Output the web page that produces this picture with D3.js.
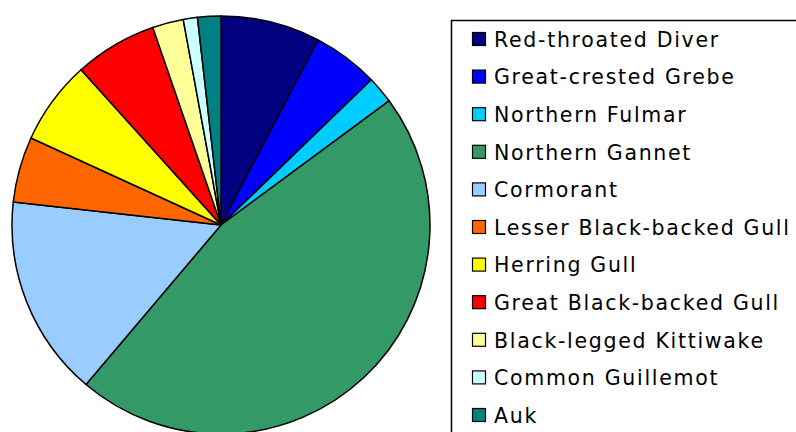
<!DOCTYPE html>
<html>
<head>
<meta charset="utf-8">
<script src="https://cdn.jsdelivr.net/npm/d3@7"></script>
<style>
  body { margin: 0; background: #fff; }
  svg { display: block; }
  .legend text { font-family: "DejaVu Sans", Verdana, sans-serif; font-size: 20.5px; letter-spacing: 1.7px; fill: #000; }
</style>
</head>
<body>
<svg id="chart"></svg>
<script>
const width = 796
const height = 432

// share of each species, clockwise from 12 o'clock
const species = [
  'Red-throated Diver', 'Great-crested Grebe', 'Northern Fulmar', 'Northern Gannet',
  'Cormorant', 'Lesser Black-backed Gull', 'Herring Gull', 'Great Black-backed Gull',
  'Black-legged Kittiwake', 'Common Guillemot', 'Auk'
]
const shares = [7.7, 5.1, 2.1, 46.4, 15.6, 5.1, 6.5, 6.4, 2.4, 1.1, 1.8]
const colors = [
  '#000080', '#0000ff', '#00ccff', '#339966', '#99ccff', '#ff6600',
  '#ffff00', '#ff0000', '#ffff99', '#ccffff', '#008080'
]

const center = {x: 221, y: 225}
const radius = 209

const svg = d3.select('#chart')
  .attr('width', width)
  .attr('height', height)

const color = d3.scaleOrdinal().domain(species).range(colors)

const pie = d3.pie().sort(null).value(d => d.value)
const arc = d3.arc().innerRadius(0).outerRadius(radius)

const data = species.map((name, i) => ({name, value: shares[i]}))

svg.append('g')
  .attr('transform', `translate(${center.x},${center.y})`)
  .selectAll('path')
  .data(pie(data))
  .join('path')
  .attr('d', arc)
  .attr('fill', d => color(d.data.name))
  .attr('stroke', '#000')
  .attr('stroke-width', 1.5)
  .attr('stroke-linejoin', 'round')

// legend
const legend = svg.append('g').attr('class', 'legend')

legend.append('rect')
  .attr('x', 451.5)
  .attr('y', 20.5)
  .attr('width', 400)
  .attr('height', 450)
  .attr('fill', '#fff')
  .attr('stroke', '#000')
  .attr('stroke-width', 1.5)

const rowY = d3.scalePoint().domain(species).range([39, 415])

const rows = legend.selectAll('g.row')
  .data(species)
  .join('g')
  .attr('class', 'row')
  .attr('transform', d => `translate(0,${rowY(d)})`)

rows.append('rect')
  .attr('x', 472.5)
  .attr('y', -6.5)
  .attr('width', 13)
  .attr('height', 13)
  .attr('fill', d => color(d))
  .attr('stroke', '#000')
  .attr('stroke-width', 1.2)

rows.append('text')
  .attr('x', 494)
  .attr('y', 7.8)
  .text(d => d)
</script>
</body>
</html>
